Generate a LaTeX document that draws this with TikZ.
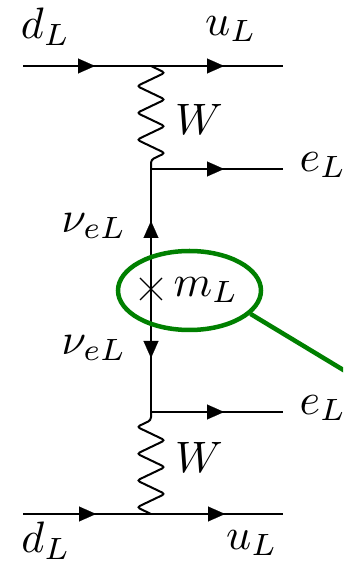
\documentclass[tikz,border=0pt]{standalone}
\usetikzlibrary{arrows.meta,decorations.pathmorphing,shapes.geometric}
\definecolor{ringgreen}{RGB}{0,128,0}
\tikzset{
  fline/.style={line width=1.7pt,black},
  tipped/.style={black,line width=0.1pt,-{Triangle[length=17pt,width=15pt]}},
  boson/.style={line width=2pt,black,xshift=1.5pt,rounded corners=3pt,decorate,decoration={zigzag,segment length=26.8pt,amplitude=14pt,post length=0pt,pre length=0pt}},
  lab/.style={inner sep=0pt,scale=4.4},
  ring/.style={line width=4.5pt,color=ringgreen}
}
\begin{document}
\begin{tikzpicture}[x=1pt,y=1pt]
\useasboundingbox (0,0) rectangle (343,565);
\clip (0,0) rectangle (343,565);
\fill[white] (0,0) rectangle (343,565);
\coordinate (dlA) at (23,499);
\coordinate (tA1) at (95,499);
\coordinate (vA) at (151,499);
\coordinate (tA2) at (224,499);
\coordinate (ulA) at (283,499);
\coordinate (vB) at (151,396);
\coordinate (tB) at (224,396);
\coordinate (elB) at (283,396);
\coordinate (tUp) at (151,344);
\coordinate (mass) at (151,276);
\coordinate (tDn) at (151,207);
\coordinate (vC) at (151,153);
\coordinate (tC) at (224,153);
\coordinate (elC) at (283,153);
\coordinate (dlD) at (23,51);
\coordinate (tD1) at (96,51);
\coordinate (vD) at (151,51);
\coordinate (tD2) at (225,51);
\coordinate (ulD) at (283,51);
\coordinate (ringEnd) at (350,191);

\draw[fline] (dlA) -- (ulA);
\draw[fline] (vB) -- (elB);
\draw[fline] (vB) -- (vC);
\draw[fline] (vC) -- (elC);
\draw[fline] (dlD) -- (ulD);
\draw[tipped] (dlA) -- (tA1);
\draw[tipped] (vA) -- (tA2);
\draw[tipped] (vB) -- (tB);
\draw[tipped] (vC) -- (tC);
\draw[tipped] (dlD) -- (tD1);
\draw[tipped] (vD) -- (tD2);
\draw[tipped] (mass) -- (tUp);
\draw[tipped] (mass) -- (tDn);
\draw[boson] (vA) -- (vB);
\draw[boson] (vD) -- (vC);
\draw[line width=1.2pt] ([shift={(-11,-11)}]mass) -- ([shift={(11,11)}]mass);
\draw[line width=1.2pt] ([shift={(-11,11)}]mass) -- ([shift={(11,-11)}]mass);

\node[lab] (lab1) at (45.5,538) {$d_L$};
\node[lab] (lab2) at (231,536) {$u_L$};
\node[lab] (lab3) at (199,446) {$W$};
\node[lab] (lab4) at (323,400) {$e_L$};
\node[lab] (lab5) at (94,339) {$\nu_{eL}$};
\node[lab] (lab6) at (206,275) {$m_L$};
\node[lab] (lab7) at (94,217) {$\nu_{eL}$};
\node[lab] (lab8) at (323,157) {$e_L$};
\node[lab] (lab9) at (199,108) {$W$};
\node[lab] (lab10) at (46,24) {$d_L$};
\node[lab] (lab11) at (252,22) {$u_L$};

\node[ring,draw,ellipse,minimum width=143pt,minimum height=79pt,inner sep=0pt] (oval) at (189.5,274.5) {};
\draw[ring] (oval.339) -- (ringEnd);
\end{tikzpicture}
\end{document}
